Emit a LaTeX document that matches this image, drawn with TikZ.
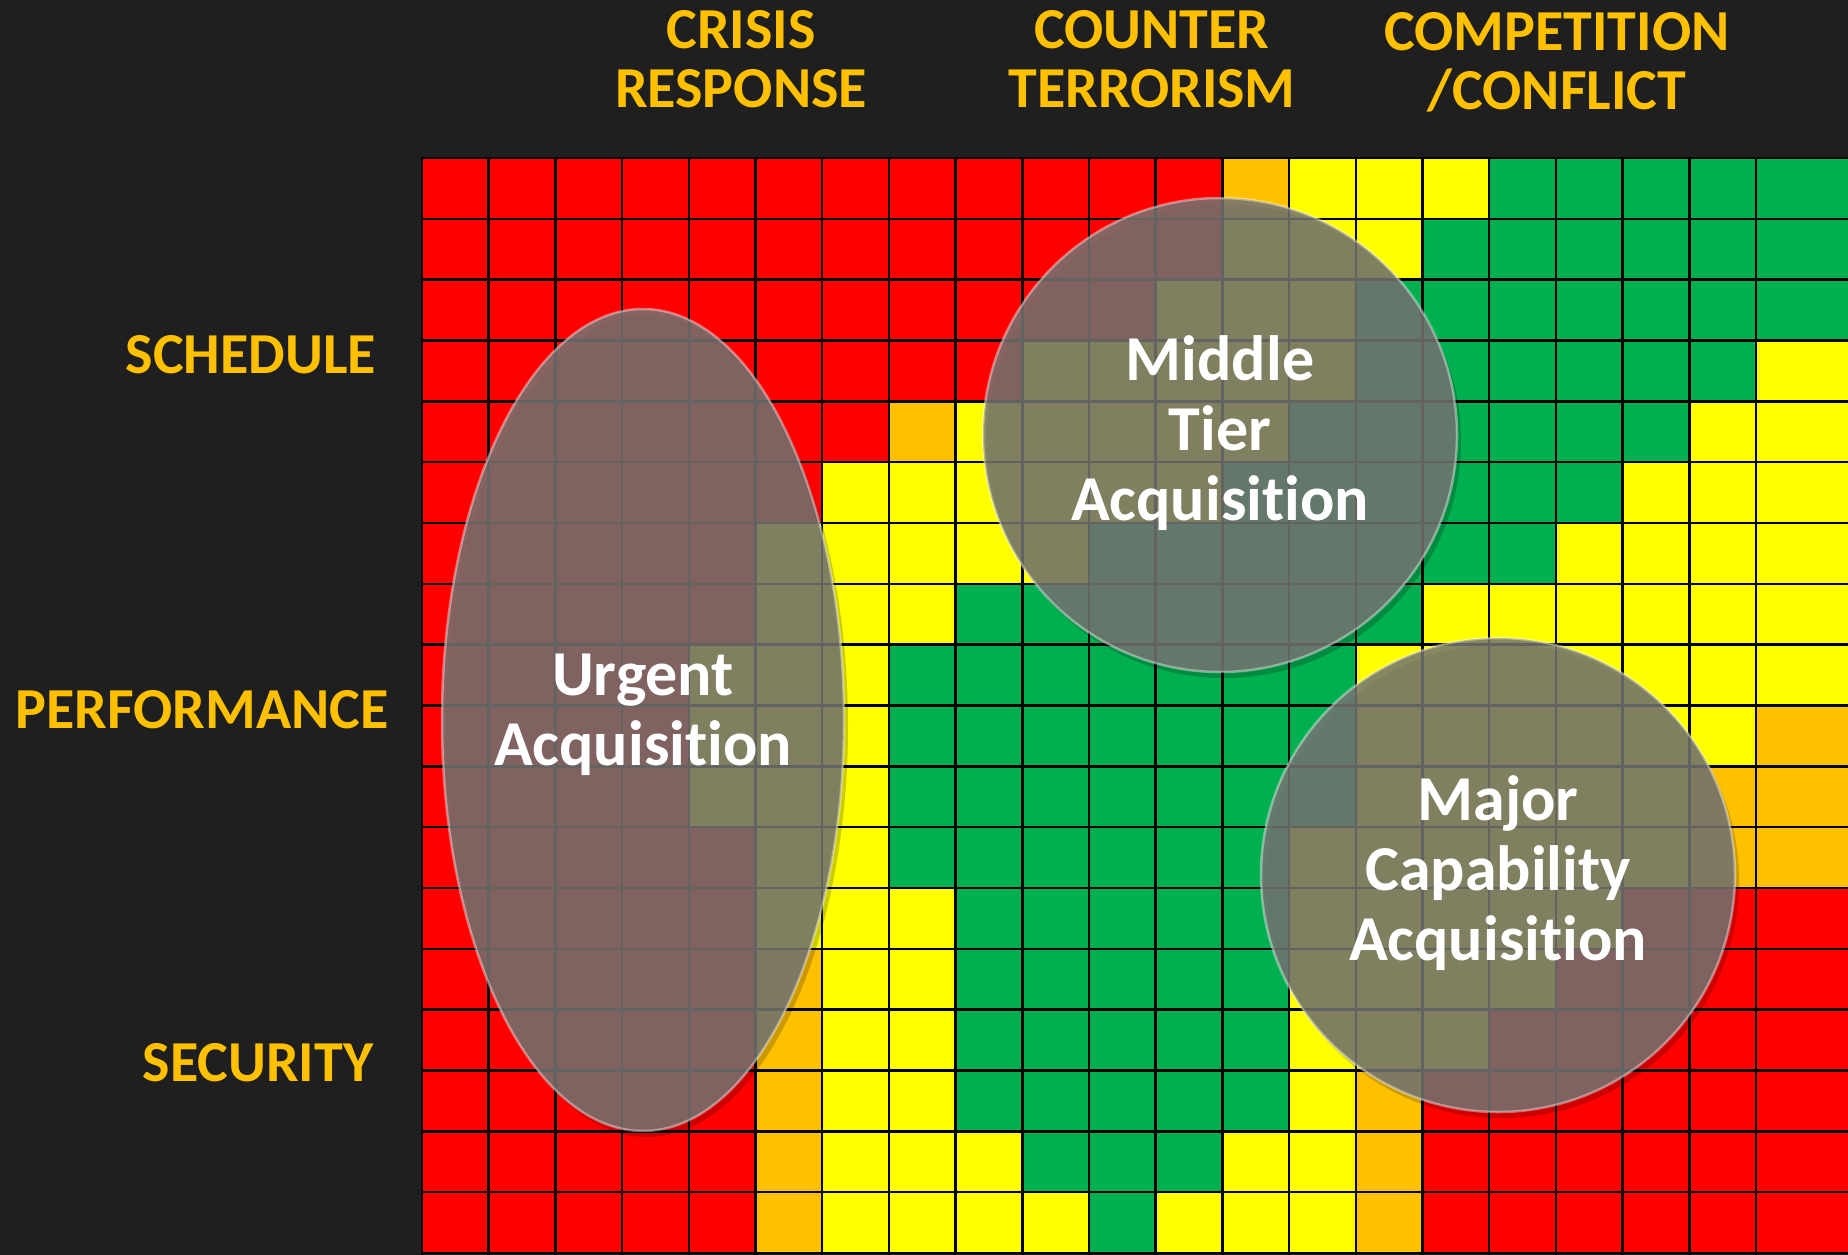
\documentclass[tikz,border=0pt]{standalone}
\usepackage{fontspec}
\setmainfont{Carlito}[Ligatures=NoCommon]
\usetikzlibrary{positioning}

\definecolor{bg}{RGB}{31,31,31}
\definecolor{gold}{RGB}{255,192,0}
\definecolor{cR}{RGB}{255,0,0}
\definecolor{cO}{RGB}{255,192,0}
\definecolor{cY}{RGB}{255,255,0}
\definecolor{cG}{RGB}{0,176,80}
\definecolor{glass}{RGB}{116,116,114}

\begin{document}
\begin{tikzpicture}[x=1pt, y=-1pt,
    head/.style = {text=gold, align=center, inner sep=0pt, font=\bfseries\fontsize{58}{59}\selectfont},
    side/.style = {text=gold, inner sep=0pt, font=\bfseries\fontsize{58}{59}\selectfont},
    gridline/.style = {line width=2.5pt, black},
    shade/.style = {fill=black, fill opacity=0.2},
    lens/.style = {fill=glass, fill opacity=0.86, draw=white, draw opacity=0.4, line width=2.5pt},
    lenstext/.style = {text=white, align=center, inner sep=0pt, font=\bfseries\fontsize{64}{70}\selectfont}]

    \useasboundingbox (0,0) rectangle (1848,1255);
    \fill[bg] (0,0) rectangle (1848,1255);

    \foreach \cells [count=\r from 0] in {
        {R,R,R,R,R,R,R,R,R,R,R,R,O,Y,Y,Y,G,G,G,G,G},
        {R,R,R,R,R,R,R,R,R,R,R,R,Y,Y,Y,G,G,G,G,G,G},
        {R,R,R,R,R,R,R,R,R,R,R,Y,Y,Y,G,G,G,G,G,G,G},
        {R,R,R,R,R,R,R,R,R,Y,Y,Y,Y,Y,G,G,G,G,G,G,Y},
        {R,R,R,R,R,R,R,O,Y,Y,Y,Y,Y,G,G,G,G,G,G,Y,Y},
        {R,R,R,R,R,R,Y,Y,Y,Y,Y,Y,G,G,G,G,G,G,Y,Y,Y},
        {R,R,R,R,R,Y,Y,Y,Y,Y,G,G,G,G,G,G,G,Y,Y,Y,Y},
        {R,R,R,R,R,Y,Y,Y,G,G,G,G,G,G,G,Y,Y,Y,Y,Y,Y},
        {R,R,R,R,Y,Y,Y,G,G,G,G,G,G,G,Y,Y,Y,Y,Y,Y,Y},
        {R,R,R,R,Y,Y,Y,G,G,G,G,G,G,G,Y,Y,Y,Y,Y,Y,O},
        {R,R,R,R,Y,Y,Y,G,G,G,G,G,G,G,Y,Y,Y,Y,Y,O,O},
        {R,R,R,R,R,Y,Y,G,G,G,G,G,G,Y,Y,Y,Y,Y,Y,O,O},
        {R,R,R,R,R,Y,Y,Y,G,G,G,G,G,Y,Y,Y,Y,Y,R,R,R},
        {R,R,R,R,R,O,Y,Y,G,G,G,G,G,Y,Y,Y,Y,R,R,R,R},
        {R,R,R,R,R,O,Y,Y,G,G,G,G,G,Y,Y,Y,R,R,R,R,R},
        {R,R,R,R,R,O,Y,Y,G,G,G,G,G,Y,O,R,R,R,R,R,R},
        {R,R,R,R,R,O,Y,Y,Y,G,G,G,Y,Y,O,R,R,R,R,R,R},
        {R,R,R,R,R,O,Y,Y,Y,Y,G,Y,Y,Y,O,R,R,R,R,R,R}} {
      \foreach \c [count=\k from 0] in \cells
        \fill[c\c] ({422+66.7*\k}, {158+60.83*\r}) rectangle ({\k==20 ? 1848 : 422+66.7*(\k+1)}, {158+60.83*(\r+1)});
    }

    \foreach \k in {0,...,20}
      \draw[gridline] ({422+66.7*\k},158) -- ({422+66.7*\k},1255);
    \foreach \r in {0,...,18}
      \draw[gridline] (421,{158+60.83*\r}) -- (1848,{158+60.83*\r});

    \fill[shade] (647,726) ellipse [x radius=201, y radius=411];
    \path[lens] (643,720) ellipse [x radius=201, y radius=411];
    \fill[shade] (1224,441) circle [radius=237];
    \path[lens] (1220,435) circle [radius=237];
    \fill[shade] (1502,881) circle [radius=237];
    \path[lens] (1498,875) circle [radius=237];

    \node[lenstext] (urgent) at (643,715) {Urgent\\Acquisition};
    \node[lenstext] (middle) at (1220,433) {Middle\\Tier\\Acquisition};
    \node[lenstext] (major) at (1498,873) {Major\\Capability\\Acquisition};

    \node[head] (crisis) at (741,59) {CRISIS\\RESPONSE};
    \node[head] (counter) at (1152,59) {COUNTER\\TERRORISM};
    \node[head] (compete) at (1557,62) {COMPETITION\\/CONFLICT};

    \node[side] (schedule) at (251,355) {SCHEDULE};
    \node[side] (perform) at (202,710) {PERFORMANCE};
    \node[side] (security) at (258,1063) {SECURITY};
\end{tikzpicture}
\end{document}
